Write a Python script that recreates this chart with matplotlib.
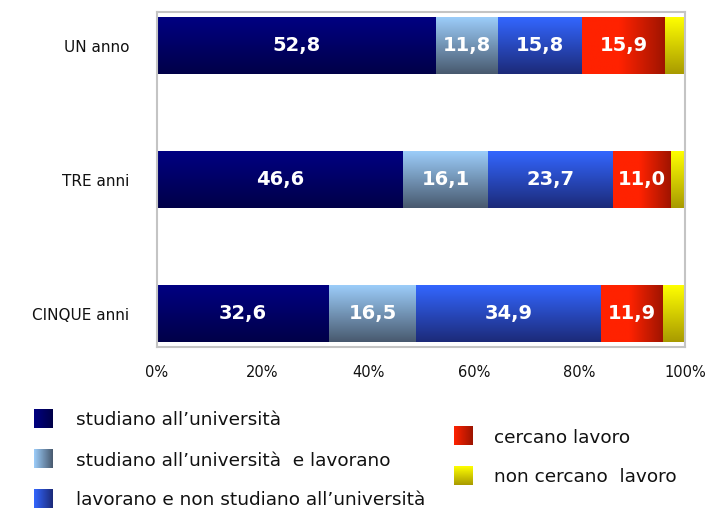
import numpy as np
import matplotlib
matplotlib.use("Agg")
import matplotlib.pyplot as plt
from matplotlib.colors import LinearSegmentedColormap

categories = ["UN anno", "TRE anni", "CINQUE anni"]
studiano = [52.8, 46.6, 32.6]
studiano_lavorano = [11.8, 16.1, 16.5]
lavorano = [15.8, 23.7, 34.9]
cercano = [15.9, 11.0, 11.9]
non_cercano = [3.7, 2.6, 4.1]

series_names = [
    "studiano all\u2019università",
    "studiano all\u2019università  e lavorano",
    "lavorano e non studiano all\u2019università",
    "cercano lavoro",
    "non cercano  lavoro",
]
series = [studiano, studiano_lavorano, lavorano, cercano, non_cercano]
# (start colour, end colour, gradient direction in bars, in legend)
styles = [
    ("#000082", "#000048", "v", "h"),
    ("#9ccdfa", "#48596e", "v", "h"),
    ("#3366ff", "#1c2a78", "v", "h"),
    ("#ff2200", "#9c1400", "h", "h"),
    ("#ffff00", "#a89a00", "v", "v"),
]
labelled = [True, True, True, True, False]


def gradient_array(direction, soft=False):
    grad = np.linspace(0, 1, 256)
    if soft:
        grad = np.clip((grad - 0.45) / 0.55, 0, 1)
    if direction == "h":
        return grad.reshape(1, -1)
    return grad.reshape(-1, 1)


def gradient_fill(ax, patch, c1, c2, direction):
    x0, y0 = patch.get_x(), patch.get_y()
    w, h = patch.get_width(), patch.get_height()
    cmap = LinearSegmentedColormap.from_list("g", [c1, c2])
    grad = gradient_array(direction, soft=(direction == "h"))
    # y axis is inverted: first row goes to top of bar
    im = ax.imshow(grad, cmap=cmap, aspect="auto", origin="upper",
                   extent=(x0, x0 + w, y0 + h, y0), zorder=2,
                   interpolation="bilinear")
    im.set_clip_path(patch)


fig = plt.figure(figsize=(7.06, 5.08), dpi=100)
ax = fig.add_axes([157 / 706, 1 - 347 / 508, 528 / 706, 335 / 508])

y = np.arange(len(categories))
left = np.zeros(len(categories))
for vals, (c1, c2, d, _), lab in zip(series, styles, labelled):
    bars = ax.barh(y, vals, left=left, height=0.418, color="none",
                   edgecolor="none", zorder=1)
    for bar, v in zip(bars, vals):
        gradient_fill(ax, bar, c1, c2, d)
        if lab:
            ax.text(bar.get_x() + bar.get_width() / 2, bar.get_y() + bar.get_height() / 2,
                    f"{v:.1f}".replace(".", ","), ha="center", va="center",
                    color="white", fontsize=14, fontweight="bold", zorder=3)
    left += np.array(vals)

ax.set_xlim(0, 100)
ax.set_ylim(2.25, -0.25)
ax.set_yticks(y)
ax.set_yticklabels(categories, fontsize=11)
ax.set_xticks(np.arange(0, 101, 20))
ax.set_xticklabels([f"{t}%" for t in range(0, 101, 20)], fontsize=10.5)
ax.tick_params(axis="x", length=0, pad=13, colors="#111111")
ax.tick_params(axis="y", length=0, pad=20, colors="#111111")
for s in ax.spines.values():
    s.set_color("#c4c4c4")
    s.set_linewidth(1.5)

# legend drawn by hand, two columns
legend_pos = [
    (34, 409, 76, 420),
    (34, 449, 76, 461),
    (34, 489, 76, 500),
    (454, 426, 494, 438),
    (454, 466, 494, 477),
]
for name, (c1, c2, _, ld), (sx, sy, tx, ty) in zip(series_names, styles, legend_pos):
    lax = fig.add_axes([sx / 706, 1 - (sy + 19) / 508, 19 / 706, 19 / 508])
    lax.imshow(gradient_array(ld),
               cmap=LinearSegmentedColormap.from_list("l", [c1, c2]),
               aspect="auto", interpolation="bilinear")
    lax.axis("off")
    fig.text(tx / 706, 1 - ty / 508, name, fontsize=13.3, va="center", ha="left",
             color="#111111")

fig.savefig("out.png", dpi=100)
